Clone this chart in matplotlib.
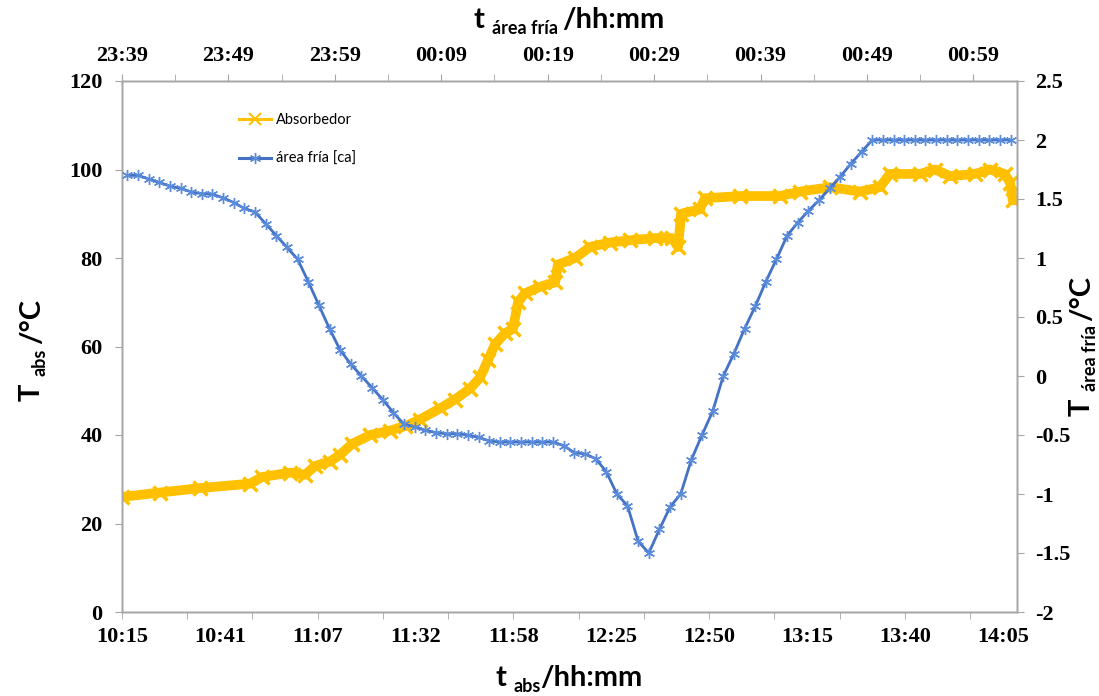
import numpy as np
import matplotlib as mpl
import matplotlib.pyplot as plt
from matplotlib.lines import Line2D
from matplotlib.ticker import FixedLocator

# Absorbedor: minutes after 10:15 (bottom axis) and temperature / degC
abs_min = [0, 9.9, 20.4, 33.4, 36.6, 43.9, 47.8, 50.4, 54.3, 56.9, 60.1, 64.8,
           70.0, 73.9, 77.8, 83.0, 86.9, 90.9, 93.5, 95.6, 97.4, 100.0, 102.1,
           103.4, 105.2, 109.1, 113.1, 113.8, 118.3, 122.2, 127.4, 132.6, 139.2,
           143.6, 145.2, 146.0, 150.9, 152.2, 161.4, 171.8, 177.0, 184.9, 192.7,
           197.9, 200.5, 208.4, 212.3, 216.2, 222.7, 226.6, 230.5, 231.9, 232.6]
abs_temp = [26, 27, 28, 29, 30.5, 31.5, 31, 33, 34, 35.5, 38, 40,
            41, 42, 43.5, 46, 48, 50.5, 53, 57, 60.5, 63, 64,
            70, 72, 73.5, 74.5, 78.5, 80, 82.5, 83.5, 84, 84.5,
            84.5, 82.5, 90, 91, 93.5, 94, 94, 95, 96, 95,
            96, 99, 99, 100, 98.5, 99, 100, 99, 97, 93]

# área fría [ca]: one reading per minute from 23:39 (top axis), right axis
fria_val = [1.70, 1.70, 1.67, 1.64, 1.61, 1.59, 1.56, 1.545, 1.54, 1.51,
            1.47, 1.42, 1.39, 1.29, 1.19, 1.09, 0.99, 0.80, 0.60, 0.40,
            0.22, 0.10, 0.0, -0.10, -0.20, -0.31, -0.41, -0.43, -0.46, -0.48,
            -0.49, -0.49, -0.50, -0.52, -0.55, -0.56, -0.56, -0.56, -0.56, -0.56,
            -0.56, -0.59, -0.65, -0.66, -0.70, -0.81, -1.00, -1.10, -1.40, -1.50,
            -1.30, -1.11, -1.00, -0.71, -0.50, -0.30, 0.0, 0.19, 0.40, 0.59,
            0.80, 0.99, 1.19, 1.30, 1.40, 1.49, 1.59, 1.69, 1.80, 1.90,
            2.0, 2.0, 2.0, 2.0, 2.0, 2.0, 2.0, 2.0, 2.0, 2.0, 2.0, 2.0, 2.0, 2.0]
fria_min = np.arange(len(fria_val)) + 0.5

bottom_labels = ["10:15", "10:41", "11:07", "11:32", "11:58",
                 "12:25", "12:50", "13:15", "13:40", "14:05"]
top_labels = ["23:39", "23:49", "23:59", "00:09", "00:19",
              "00:29", "00:39", "00:49", "00:59"]
left_ticks = [0, 20, 40, 60, 80, 100, 120]
right_ticks = [-2, -1.5, -1, -0.5, 0, 0.5, 1, 1.5, 2, 2.5]
right_labels = ["-2", "-1.5", "-1", "-0.5", "0", "0.5", "1", "1.5", "2", "2.5"]

YELLOW = "#FFC000"
BLUE = "#4472C4"
GREY = "#A6A6A6"
SERIF = "Liberation Serif"
SANS = "Lato"

W_PX, H_PX = 1099, 696
fig = plt.figure(figsize=(W_PX / 100, H_PX / 100), dpi=100)
ax = fig.add_axes([122 / W_PX, 1 - 612 / H_PX, 895 / W_PX, 531 / H_PX])
ax2 = ax.twinx()
ax3 = ax2.twiny()

# yellow on bottom/left: dense readings drawn as a thick band
ax.plot(abs_min, abs_temp, color=YELLOW, lw=7, marker="x", ms=10, mew=2.5,
        solid_joinstyle="round", solid_capstyle="round", zorder=2)
# blue on top/right
ax3.plot(fria_min, fria_val, color=BLUE, lw=2.0, marker=(6, 2, 0), ms=8,
         mew=1.0, mec="#5B8BDB", zorder=3)

# bottom axis: evenly spaced category-like labels, tick marks every 2/3 label step
step = 230 / 9
ax.set_xlim(0, 233.7)
ax.xaxis.set_major_locator(FixedLocator([i * step for i in range(len(bottom_labels))]))
ax.set_xticklabels(bottom_labels)
ax.xaxis.set_minor_locator(FixedLocator(np.arange(0, 233, step * 2 / 3)))
ax.xaxis.remove_overlapping_locs = False
ax.tick_params(axis="x", which="major", length=0, pad=11)
ax.tick_params(axis="x", which="minor", length=5, direction="out", color=GREY)

ax.set_ylim(0, 120)
ax.set_yticks(left_ticks)
ax.tick_params(axis="y", length=5, direction="out", color=GREY, pad=9)

ax2.set_ylim(-2, 2.5)
ax2.set_yticks(right_ticks)
ax2.set_yticklabels(right_labels)
ax2.tick_params(axis="y", length=5, direction="out", color=GREY, pad=8)

ax3.set_xlim(0, 84.1)
ax3.set_xticks([10 * i for i in range(len(top_labels))])
ax3.set_xticklabels(top_labels)
ax3.set_xticks(np.arange(5, 84, 10), minor=True)
ax3.tick_params(axis="x", which="both", length=5, direction="out", color=GREY, pad=6)

for a in (ax, ax2, ax3):
    for s in a.spines.values():
        s.set_color(GREY)
        s.set_linewidth(1.0)
    for lab in a.get_xticklabels() + a.get_yticklabels():
        lab.set_family(SERIF)
        lab.set_fontweight("bold")
        lab.set_fontsize(16)

# legend, no frame, thin handles like the spreadsheet legend
handles = [
    Line2D([], [], color=YELLOW, lw=2.2, marker="x", ms=8, mew=1.5),
    Line2D([], [], color=BLUE, lw=2.2, marker=(6, 2, 0), ms=8, mew=1.0, mec="#5B8BDB"),
]
ax3.legend(handles, ["Absorbedor", "área fría [ca]"], loc="upper left",
           bbox_to_anchor=((226 - 122) / 895, (612 - 100) / 531),
           frameon=False, handlelength=2.2, labelspacing=1.7,
           handletextpad=0.3, prop={"family": SANS, "size": 10.5})


def run_label(x_px, y_px, pieces, rotation=0):
    """Draw bold pieces (text, size, drop_px, gap_px) in a row centred on x/y."""
    r = fig.canvas.get_renderer()
    widths = []
    for s, size, _, gap in pieces:
        t = fig.text(0, 0, s, fontsize=size, fontweight="bold", family=SANS)
        widths.append(t.get_window_extent(r).width + gap)
        t.remove()
    pos = -sum(widths) / 2
    for (s, size, drop, gap), w in zip(pieces, widths):
        if rotation == 0:
            px, py = x_px + pos, y_px + drop
        else:
            px, py = x_px + drop, y_px - pos
        fig.text(px / W_PX, 1 - py / H_PX, s, fontsize=size, fontweight="bold",
                 family=SANS, rotation=rotation, rotation_mode="anchor",
                 ha="left", va="baseline")
        pos += w


run_label(569, 28, [("t", 21, 0, 7), ("área fría", 13, 6, 4), ("/hh:mm", 21, 0, 0)])
run_label(569, 686, [("t", 21, 0, 7), ("abs", 13, 6, 0), ("/hh:mm", 21, 0, 0)])
run_label(40, 350, [("T", 21, 0, 7), ("abs", 13, 6, 5), ("/°C", 21, 0, 0)], rotation=90)
run_label(1090, 346, [("T", 21, 0, 7), ("área fría", 13, 6, 4), ("/°C", 21, 0, 0)], rotation=90)

fig.savefig("out.png", dpi=100)
